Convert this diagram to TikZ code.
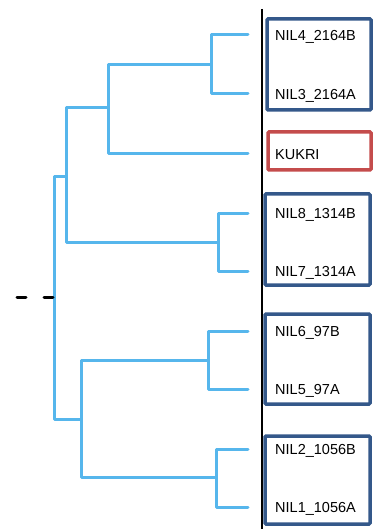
\documentclass[tikz,border=0pt]{standalone}
\usepackage{fontspec}
\setmainfont{Liberation Sans}
\usepackage{tikz}
\definecolor{treeblue}{RGB}{86,182,236}
\definecolor{boxblue}{RGB}{52,88,138}
\definecolor{boxred}{RGB}{196,76,76}
\tikzset{
  branch/.style={treeblue,line width=3pt,line cap=round,line join=round},
  leaflabel/.style={anchor=base west,inner sep=0pt,font=\fontsize{14.5}{16}\selectfont},
  grpbox/.style={boxblue,line width=3.5pt,rounded corners=1pt},
  refbox/.style={boxred,line width=3.5pt,rounded corners=1pt}
}
\begin{document}
\begin{tikzpicture}[x=1pt,y=-1pt]
      \useasboundingbox (0,0) rectangle (374,529);
      % leaf tips
      \coordinate (t4) at (248,35);
      \coordinate (t3) at (248,94);
      \coordinate (tk) at (248,154);
      \coordinate (t8) at (248,213);
      \coordinate (t7) at (248,271);
      \coordinate (t6) at (248,331);
      \coordinate (t5) at (248,389);
      \coordinate (t2) at (248,449);
      \coordinate (t1) at (248,507);
      % inner nodes
      \coordinate (n43) at (211,65);
      \coordinate (n43k) at (108,108);
      \coordinate (n87) at (218,242);
      \coordinate (nup) at (66,177);
      \coordinate (n65) at (208,360);
      \coordinate (n21) at (216,477);
      \coordinate (nlow) at (81,419);
      \coordinate (root) at (54,297);
      \coordinate (stem) at (17,297);
      % tree
      \draw[branch] (n43) |- (t4);
      \draw[branch] (n43) |- (t3);
      \draw[branch] (n43k) |- (n43);
      \draw[branch] (n43k) |- (tk);
      \draw[branch] (n87) |- (t8);
      \draw[branch] (n87) |- (t7);
      \draw[branch] (nup) |- (n43k);
      \draw[branch] (nup) |- (n87);
      \draw[branch] (n65) |- (t6);
      \draw[branch] (n65) |- (t5);
      \draw[branch] (n21) |- (t2);
      \draw[branch] (n21) |- (t1);
      \draw[branch] (nlow) |- (n65);
      \draw[branch] (nlow) |- (n21);
      \draw[branch] (root) |- (nup);
      \draw[branch] (root) |- (nlow);
      \draw[black,line width=3pt,line cap=round,dash pattern=on 9pt off 18pt] (stem) -- (root);
      % separator
      \draw[black,line width=2pt] (262,9) -- (262,529);
      % labels
      \node[leaflabel] (l4) at (275,40.5) {NIL4\_2164B};
      \node[leaflabel] (l3) at (275,99.5) {NIL3\_2164A};
      \node[leaflabel] (lk) at (275,159.5) {KUKRI};
      \node[leaflabel] (l8) at (275,218.5) {NIL8\_1314B};
      \node[leaflabel] (l7) at (275,276.5) {NIL7\_1314A};
      \node[leaflabel] (l6) at (275,336.5) {NIL6\_97B};
      \node[leaflabel] (l5) at (275,394.5) {NIL5\_97A};
      \node[leaflabel] (l2) at (275,454.5) {NIL2\_1056B};
      \node[leaflabel] (l1) at (275,512.5) {NIL1\_1056A};
      % groups
      \draw[grpbox] (267,19) rectangle (371,110);
      \draw[refbox] (268,132) rectangle (371,170);
      \draw[grpbox] (265,194) rectangle (370,285);
      \draw[grpbox] (265,314) rectangle (370,404);
      \draw[grpbox] (265,436) rectangle (370,524);
\end{tikzpicture}
\end{document}
